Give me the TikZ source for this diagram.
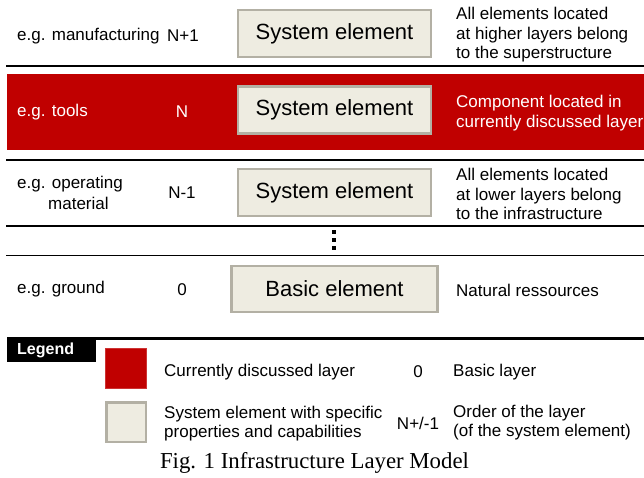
\documentclass[tikz,border=0pt]{standalone}
\usepackage{fontspec}
\setmainfont{Liberation Sans}
\newfontfamily\capfont{Liberation Serif}
\definecolor{layerred}{HTML}{C00000}
\definecolor{elemfill}{HTML}{EEECE1}
\definecolor{elemdraw}{HTML}{B3B0A4}
\begin{document}
\begin{tikzpicture}[x=1pt,y=-1pt,
  txt/.style={font=\fontsize{17}{19.5}\selectfont, inner sep=0pt, align=left},
  ctxt/.style={font=\fontsize{17}{19.5}\selectfont, inner sep=0pt, align=center},
  elem/.style={draw=elemdraw, fill=elemfill, line width=2.5pt, font=\fontsize{22}{26}\selectfont, inner sep=0pt, minimum height=47pt},
  sep/.style={line width=2.2pt},
  thinsep/.style={line width=1.2pt},
  dotsq/.style={fill=black, minimum size=3.5pt, inner sep=0pt},
]
\useasboundingbox (0,0) rectangle (644,477);

% red current layer band
\fill[layerred] (7,74) rectangle (644,149.5);

% separators
\draw[sep] (6,65.7) -- (644,65.7);
\draw[sep] (6,160) -- (644,160);
\draw[sep] (6,226) -- (644,226);
\draw[thinsep] (6,255.3) -- (644,255.3);
\draw[line width=3pt] (7,338) -- (644,338);

% row N+1
\node[txt, anchor=west] (ex1) at (17,36) {e.g. manufacturing};
\node[ctxt] (n1) at (183,36) {N+1};
\node[elem, minimum width=193pt] (se1) at (334.5,33.5) {System element};
\node[txt, anchor=west] (d1) at (456,35) {All elements located\\at higher layers belong\\to the superstructure};

% row N
\node[txt, anchor=west, text=white] (ex2) at (17,112) {e.g. tools};
\node[ctxt, text=white] (n2) at (182,112) {N};
\node[elem, minimum width=193pt] (se2) at (334.5,110) {System element};
\node[txt, anchor=west, text=white] (d2) at (456,113) {Component located in\\currently discussed layer};

% row N-1
\node[txt, anchor=west] (ex3a) at (17,184) {e.g. operating};
\node[txt, anchor=west] (ex3b) at (48,203) {material};
\node[ctxt] (n3) at (182,193) {N-1};
\node[elem, minimum width=193pt] (se3) at (334.5,192.5) {System element};
\node[txt, anchor=west] (d3) at (456,194) {All elements located\\at lower layers belong\\to the infrastructure};

% dots
\node[dotsq] (dA) at (334,232) {};
\node[dotsq] (dB) at (334,240) {};
\node[dotsq] (dC) at (334,248) {};

% row 0
\node[txt, anchor=west] (ex4) at (17,289) {e.g. ground};
\node[ctxt] (n4) at (182,290) {0};
\node[elem, minimum width=206pt, minimum height=46pt] (be) at (334.5,289) {Basic element};
\node[txt, anchor=west] (d4) at (456,290) {Natural ressources};

% legend
\fill[black] (7,337) rectangle (96,362);
\node[anchor=west, inner sep=0pt, text=white, font=\fontsize{16}{18}\selectfont\bfseries] (leg) at (17,350) {Legend};
\node[fill=layerred, draw=layerred!80!white, line width=0.6pt, minimum width=41pt, minimum height=40pt, inner sep=0pt] (lr) at (126,368.5) {};
\node[txt, anchor=west] (lrt) at (164,372) {Currently discussed layer};
\node[ctxt] (l0) at (418,372) {0};
\node[txt, anchor=west] (l0t) at (453,372) {Basic layer};
\node[draw=elemdraw, fill=elemfill, line width=2.5pt, minimum width=39.5pt, minimum height=39.5pt, inner sep=0pt] (lb) at (126,422) {};
\node[txt, anchor=west] (lbt) at (164,423.5) {System element with specific\\properties and capabilities};
\node[ctxt] (ln) at (418,423) {N+/-1};
\node[txt, anchor=west] (lnt) at (453,422.5) {Order of the layer\\(of the system element)};

% caption
\node[inner sep=0pt, font=\capfont\fontsize{22.8}{26}\selectfont] (cap) at (314.5,463) {Fig. 1 Infrastructure Layer Model};
\end{tikzpicture}
\end{document}
